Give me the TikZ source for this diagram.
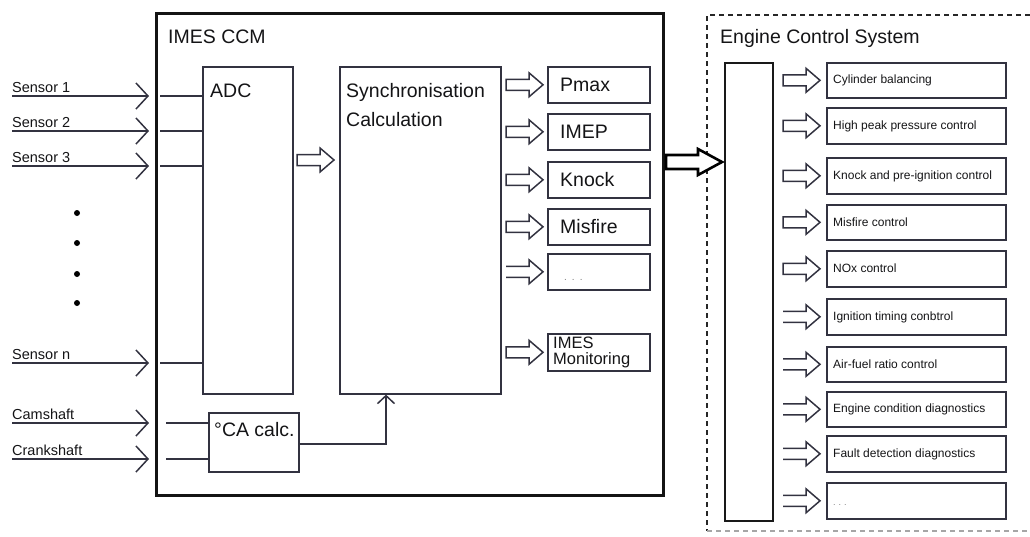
\documentclass[tikz,border=0pt]{standalone}
\usepackage{fontspec}
\setmainfont{Liberation Sans}
\usetikzlibrary{arrows.meta}
\definecolor{ln}{RGB}{50,50,64}
\definecolor{tx}{RGB}{20,20,22}
\tikzset{
  box/.style={draw=ln,line width=1.6pt,anchor=north west,inner sep=0pt,rectangle},
  txt/.style={text=tx,inner sep=0pt,anchor=base west},
  bigf/.style={font=\fontsize{19.5pt}{23pt}\selectfont},
  midf/.style={font=\fontsize{16.5pt}{17pt}\selectfont},
  senf/.style={font=\fontsize{14.5pt}{17pt}\selectfont},
  smallf/.style={font=\fontsize{12pt}{14pt}\selectfont},
  dotsf/.style={font=\fontsize{10pt}{12pt}\selectfont,text=gray},
  hollow/.style={draw=ln,line width=1.5pt,line join=miter,fill=white},
  harr/.pic={\draw[hollow] (0,-5.5) -- (23,-5.5) -- (23,-12) -- (37,0) -- (23,12) -- (23,5.5) -- (0,5.5) -- cycle;},
  harropen/.pic={\draw[hollow,fill=none] (0,-5.5) -- (23,-5.5) -- (23,-12) -- (37,0) -- (23,12) -- (23,5.5) -- (0,5.5);},
  bigarr/.pic={\draw[draw=black,line width=2.6pt,line join=miter,fill=white] (0,-7) -- (32,-7) -- (32,-13) -- (56,0) -- (32,13) -- (32,7) -- (0,7) -- cycle;},
  inarrow/.style={draw=ln,line width=1.5pt,-{Straight Barb[length=12pt,width=26pt,line width=1.5pt]}},
  wire/.style={draw=ln,line width=1.5pt},
  dotn/.style={circle,fill=black,inner sep=0pt,minimum size=6pt},
}
\begin{document}
\begin{tikzpicture}[x=1pt,y=-1pt]
\useasboundingbox (0,0) rectangle (1030,536);

% ---------------- IMES CCM ----------------
\node[box,draw=black!92,line width=3pt,minimum width=507pt,minimum height=482pt] (ccm) at (155,12) {};
\node[txt,bigf] (ccmt) at (168,43) {IMES CCM};

\node[box,minimum width=90pt,minimum height=327pt] (adc) at (202,66) {};
\node[txt,bigf] (adct) at (210,97) {ADC};

\node[box,minimum width=161pt,minimum height=327pt] (sync) at (339,66) {};
\node[txt,bigf] (synct1) at (346,97) {Synchronisation};
\node[txt,bigf] (synct2) at (346,126) {Calculation};

\node[box,minimum width=90pt,minimum height=59pt] (ca) at (208,412) {};
\node[txt,bigf] (cat) at (214,436) {°CA calc.};

% output boxes
\node[box,minimum width=102pt,minimum height=36pt] (pmax) at (547,66) {};
\node[box,minimum width=102pt,minimum height=36pt] (imep) at (547,113) {};
\node[box,minimum width=102pt,minimum height=36pt] (knock) at (547,161) {};
\node[box,minimum width=102pt,minimum height=36pt] (misf) at (547,208) {};
\node[box,minimum width=102pt,minimum height=36pt] (more) at (547,253) {};
\node[box,minimum width=102pt,minimum height=37pt] (mon) at (547,333) {};
\node[txt,bigf] (pmaxt) at (560,91) {Pmax};
\node[txt,bigf] (imept) at (560,138) {IMEP};
\node[txt,bigf] (knockt) at (560,186) {Knock};
\node[txt,bigf] (misft) at (560,233) {Misfire};
\node[txt,dotsf] (moret) at (564,280) {.\hspace{5pt}.\hspace{5pt}.};
\node[txt,midf] (mont1) at (553,348) {IMES};
\node[txt,midf] (mont2) at (553,364) {Monitoring};

\pic at ([xshift=-41pt]pmax.west) {harr};
\pic at ([xshift=-41pt]imep.west) {harr};
\pic at ([xshift=-41pt]knock.west) {harr};
\pic at ([xshift=-41pt]misf.west) {harr};
\pic at ([xshift=-41pt]more.west) {harropen};
\pic at ([xshift=-41pt]mon.west) {harr};

% ADC -> Sync
\coordinate (adcout) at (297,160);
\pic at (adcout) {harr};

% sensors
\coordinate (s1a) at (12,96);  \coordinate (s1b) at (149,96);  \coordinate (s1c) at (160,96);
\coordinate (s2a) at (12,131); \coordinate (s2b) at (149,131); \coordinate (s2c) at (160,131);
\coordinate (s3a) at (12,166); \coordinate (s3b) at (149,166); \coordinate (s3c) at (160,166);
\coordinate (sna) at (12,363); \coordinate (snb) at (149,363); \coordinate (snc) at (160,363);
\coordinate (cma) at (12,423); \coordinate (cmb) at (149,423); \coordinate (cmc) at (166,423);
\coordinate (cka) at (12,459); \coordinate (ckb) at (149,459); \coordinate (ckc) at (166,459);

\draw[inarrow] (s1a) -- (s1b);
\draw[inarrow] (s2a) -- (s2b);
\draw[inarrow] (s3a) -- (s3b);
\draw[inarrow] (sna) -- (snb);
\draw[inarrow] (cma) -- (cmb);
\draw[inarrow] (cka) -- (ckb);
\draw[wire] (s1c) -- (s1c -| adc.west);
\draw[wire] (s2c) -- (s2c -| adc.west);
\draw[wire] (s3c) -- (s3c -| adc.west);
\draw[wire] (snc) -- (snc -| adc.west);
\draw[wire] (cmc) -- (cmc -| ca.west);
\draw[wire] (ckc) -- (ckc -| ca.west);

\node[txt,senf] (l1) at (12,92) {Sensor 1};
\node[txt,senf] (l2) at (12,127) {Sensor 2};
\node[txt,senf] (l3) at (12,162) {Sensor 3};
\node[txt,senf] (ln) at (12,359) {Sensor n};
\node[txt,senf] (lc) at (12,419) {Camshaft};
\node[txt,senf] (lk) at (12,455) {Crankshaft};

\node[dotn] (d1) at (77,213) {};
\node[dotn] (d2) at (77,243) {};
\node[dotn] (d3) at (77,274) {};
\node[dotn] (d4) at (77,303) {};

% CA -> Sync
\coordinate (caout) at (386,444);
\draw[wire,-{Straight Barb[length=8pt,width=17pt,line width=1.5pt]}] (ca.east |- caout) -- (caout) -- (caout |- sync.south);

% ---------------- Engine Control System ----------------
\draw[draw=black!85,line width=1.7pt,dash pattern=on 5pt off 4pt] (1030,15) -- (707,15) -- (707,531);
\draw[draw=black!35,line width=1.4pt,dash pattern=on 5pt off 4pt] (707,531) -- (1030,531);
\node[txt,bigf] (ecst) at (720,43) {Engine Control System};

\node[box,draw=black!90,line width=2pt,minimum width=48pt,minimum height=458pt] (tall) at (724,62) {};
\coordinate (bigtip) at (722,162);
\pic at ([xshift=-56pt]bigtip) {bigarr};

\node[box,minimum width=179pt,minimum height=35pt] (r1) at (826,62) {};
\node[box,minimum width=179pt,minimum height=36pt] (r2) at (826,107) {};
\node[box,minimum width=179pt,minimum height=36pt] (r3) at (826,157) {};
\node[box,minimum width=179pt,minimum height=35pt] (r4) at (826,204) {};
\node[box,minimum width=179pt,minimum height=36pt] (r5) at (826,250) {};
\node[box,minimum width=179pt,minimum height=36pt] (r6) at (826,298) {};
\node[box,minimum width=179pt,minimum height=35pt] (r7) at (826,346) {};
\node[box,minimum width=179pt,minimum height=35pt] (r8) at (826,391) {};
\node[box,minimum width=179pt,minimum height=36pt] (r9) at (826,435) {};
\node[box,minimum width=179pt,minimum height=36pt] (r10) at (826,482) {};

\node[txt,smallf] (r1t) at (833,83.5) {Cylinder balancing};
\node[txt,smallf] (r2t) at (833,129.5) {High peak pressure control};
\node[txt,smallf] (r3t) at (833,179.5) {Knock and pre-ignition control};
\node[txt,smallf] (r4t) at (833,226) {Misfire control};
\node[txt,smallf] (r5t) at (833,272.5) {NOx control};
\node[txt,smallf] (r6t) at (833,320.5) {Ignition timing conbtrol};
\node[txt,smallf] (r7t) at (833,368) {Air-fuel ratio control};
\node[txt,smallf] (r8t) at (833,412.5) {Engine condition diagnostics};
\node[txt,smallf] (r9t) at (833,457.5) {Fault detection diagnostics};
\node[txt,dotsf,font=\fontsize{9pt}{11pt}\selectfont] (r10t) at (833,505) {.\hspace{3pt}.\hspace{3pt}.};

\pic at ([xshift=-43pt]r1.west) {harr};
\pic at ([xshift=-43pt]r2.west) {harr};
\pic at ([xshift=-43pt]r3.west) {harr};
\pic at ([xshift=-43pt]r4.west) {harr};
\pic at ([xshift=-43pt]r5.west) {harr};
\pic at ([xshift=-43pt]r6.west) {harropen};
\pic at ([xshift=-43pt]r7.west) {harropen};
\pic at ([xshift=-43pt]r8.west) {harropen};
\pic at ([xshift=-43pt]r9.west) {harropen};
\pic at ([xshift=-43pt]r10.west) {harropen};
\end{tikzpicture}
\end{document}
